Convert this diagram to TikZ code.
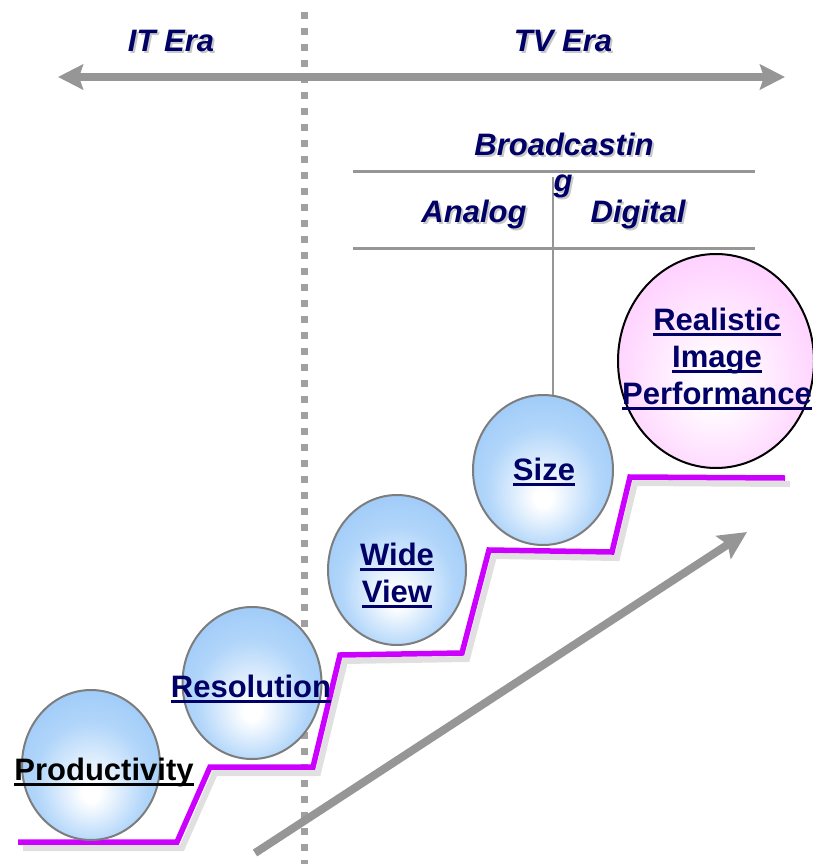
\documentclass[tikz,border=0pt]{standalone}
\usepackage{fontspec}
\setmainfont{Liberation Sans}
\usetikzlibrary{arrows.meta,shapes.geometric}
\definecolor{navy}{RGB}{0,0,102}
\definecolor{arrgray}{RGB}{150,150,150}
\definecolor{dotgray}{RGB}{160,160,160}
\definecolor{shgray}{RGB}{200,200,200}
\definecolor{stairmag}{RGB}{204,0,255}
\definecolor{stairsh}{RGB}{224,224,224}
\definecolor{ballb}{RGB}{140,192,246}
\definecolor{ballmid}{RGB}{178,214,250}
\definecolor{ballp}{RGB}{255,190,255}
\definecolor{pmid}{RGB}{255,215,255}
\definecolor{ballrim}{RGB}{125,125,125}
\pgfdeclareradialshading{blueball}{\pgfpoint{0bp}{-10bp}}{color(0bp)=(white);color(3bp)=(white);color(20bp)=(ballmid);color(40bp)=(ballb);color(50bp)=(ballb)}
\pgfdeclareradialshading{pinkball}{\pgfpoint{0bp}{-6bp}}{color(0bp)=(white);color(4bp)=(white);color(24bp)=(pmid);color(42bp)=(ballp);color(50bp)=(ballp)}
\newcommand\ulx[1]{\setbox0\hbox{#1}\rlap{\rule[-0.18em]{\wd0}{0.075em}}\box0}
\newcommand\shd[1]{\rlap{\kern2pt\raisebox{-2pt}{\color{shgray}#1}}#1}
\tikzset{
  italab/.style={anchor=base, inner sep=0pt, text=navy, font=\fontsize{31}{37}\selectfont\bfseries\itshape},
  balllab/.style={inner sep=0pt, text=navy, align=center, font=\fontsize{31}{37}\selectfont\bfseries},
  ball/.style={ellipse, draw=ballrim, line width=2pt, shading=blueball, inner sep=0pt, minimum width=138pt, minimum height=150pt},
  pball/.style={ellipse, draw=black, line width=2pt, shading=pinkball, inner sep=0pt, minimum width=196pt, minimum height=214pt},
  rule/.style={draw=arrgray, line width=3pt},
  stair/.style={draw=stairmag, line width=5.5pt},
  stairshadow/.style={draw=stairsh, line width=6pt},
  bigarrow/.style={draw=arrgray, line width=8pt}
}
\begin{document}
\begin{tikzpicture}[x=1pt,y=-1pt]
\useasboundingbox (0,0) rectangle (812,864);
% era divider
\coordinate (dtop) at (304,12);
\coordinate (dbot) at (304,864);
\draw[draw=dotgray, line width=7pt, dash pattern=on 7pt off 9pt] (dtop) -- (dbot);
% era arrow
\coordinate (eL) at (58,77);
\coordinate (eR) at (785,77);
\draw[bigarrow, {Stealth[length=25pt,width=25pt,inset=4pt]}-{Stealth[length=25pt,width=25pt,inset=4pt]}] (eL) -- (eR);
\node[italab] (it) at (171,52) {\shd{IT Era}};
\node[italab] (tv) at (563,52) {\shd{TV Era}};
% broadcasting table
\coordinate (r1a) at (353,171);
\coordinate (r1b) at (755,171);
\coordinate (r2a) at (353,248);
\coordinate (r2b) at (755,248);
\coordinate (vt) at (553,177);
\coordinate (vb) at (553,396);
\draw[rule] (r1a) -- (r1b);
\draw[rule] (r2a) -- (r2b);
\draw[draw=arrgray, line width=2.5pt] (vt) -- (vb);
\node[italab] (bc1) at (564,155) {\shd{Broadcastin}};
\node[italab] (bc2) at (563,191) {\shd{g}};
\node[italab] (an) at (474,222) {\shd{Analog}};
\node[italab] (dg) at (638,222) {\shd{Digital}};
% growth arrow
\coordinate (gA) at (255,853);
\coordinate (gB) at (747,532);
\draw[bigarrow, -{Stealth[length=28pt,width=27pt,inset=5pt]}] (gA) -- (gB);
% staircase
\coordinate (s0) at (18,842);
\coordinate (s1) at (177,842);
\coordinate (s2) at (210,767);
\coordinate (s3) at (313,767);
\coordinate (s4) at (340,655);
\coordinate (s5) at (462,653);
\coordinate (s6) at (489,550);
\coordinate (s7) at (612,552);
\coordinate (s8) at (630,477);
\coordinate (s9) at (785,478);
\draw[stairshadow, transform canvas={shift={(5pt,-6pt)}}] (s0) -- (s1) -- (s2) -- (s3) -- (s4) -- (s5) -- (s6) -- (s7) -- (s8) -- (s9);
\draw[stair] (s0) -- (s1) -- (s2) -- (s3) -- (s4) -- (s5) -- (s6) -- (s7) -- (s8) -- (s9);
% balls
\node[ball] (prod) at (91,765) {};
\node[ball, minimum width=139pt, minimum height=152pt] (res) at (252,683) {};
\node[ball] (wide) at (397,570) {};
\node[ball, minimum width=140pt] (size) at (543,470) {};
\node[pball] (real) at (716,361) {};
% labels
\node[balllab, anchor=base, text=black] (prodl) at (104,780) {\ulx{Productivity}};
\node[balllab, anchor=base] (resl) at (251,697) {\ulx{Resolution}};
\node[balllab, anchor=base] (widel) at (397,602) {\ulx{Wide}\\\ulx{View}};
\node[balllab, anchor=base] (sizel) at (544,480) {\ulx{Size}};
\node[balllab, anchor=base] (reall) at (717,404) {\ulx{Realistic}\\\ulx{Image}\\\ulx{Performance}};
\end{tikzpicture}
\end{document}
